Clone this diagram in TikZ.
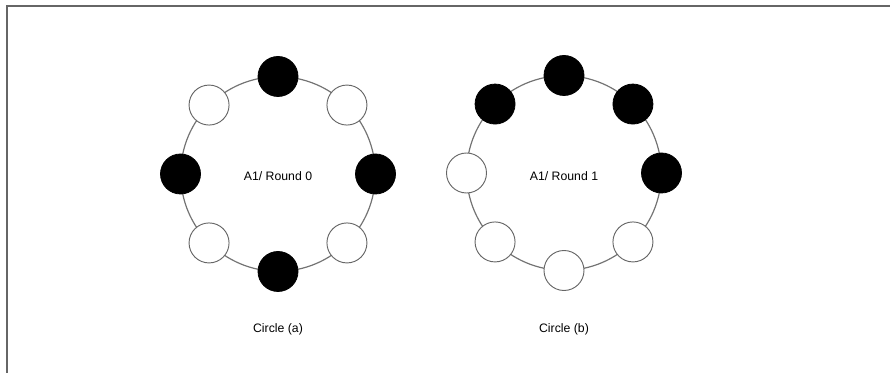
\documentclass[tikz,border=0pt]{standalone}
\usepackage{fontspec}
\setmainfont{Liberation Sans}
\usetikzlibrary{calc}
\begin{document}
\begin{tikzpicture}[x=0.75pt,y=-0.75pt,
  ring/.style={draw=black!55, line width=0.9pt},
  agentb/.style={circle, draw=black, fill=black, line width=0.6pt, minimum size=30pt, inner sep=0pt},
  agentw/.style={circle, draw=black!60, fill=white, line width=0.7pt, minimum size=30pt, inner sep=0pt},
  lbl/.style={font=\fontsize{9.2pt}{11pt}\selectfont, inner sep=0pt},
  frame/.style={draw=black!60, line width=1.2pt}]
\useasboundingbox (0,0) rectangle (890,373);
\coordinate (fc) at (7,373);
\coordinate (ftl) at (7,6);
\coordinate (fr) at (890,6);
\draw[frame] (fc) -- (ftl) -- (fr);
% circle (a)  (y axis points down: -90 is the top)
\coordinate (ca) at (278,174);
\draw[ring] (ca) circle[radius=73pt];
\foreach \ang/\nm/\st in {-90/a1/agentb,-45/a2/agentw,0/a3/agentb,45/a4/agentw,90/a5/agentb,135/a6/agentw,180/a7/agentb,-135/a8/agentw}
  \node[\st] (\nm) at ($(ca)+(\ang:97.5)$) {};
\node[lbl] (ta) at (278,176) {A1/ Round 0};
\node[lbl] (capa) at (278,329) {Circle (a)};
% circle (b)
\coordinate (cb) at (564,173);
\draw[ring] (cb) circle[radius=73pt];
\foreach \ang/\nm/\st in {-90/b1/agentb,-45/b2/agentb,0/b3/agentb,45/b4/agentw,90/b5/agentw,135/b6/agentw,180/b7/agentw,-135/b8/agentb}
  \node[\st] (\nm) at ($(cb)+(\ang:97.5)$) {};
\node[lbl] (tb) at (564,176) {A1/ Round 1};
\node[lbl] (capb) at (564,329) {Circle (b)};
\end{tikzpicture}
\end{document}
